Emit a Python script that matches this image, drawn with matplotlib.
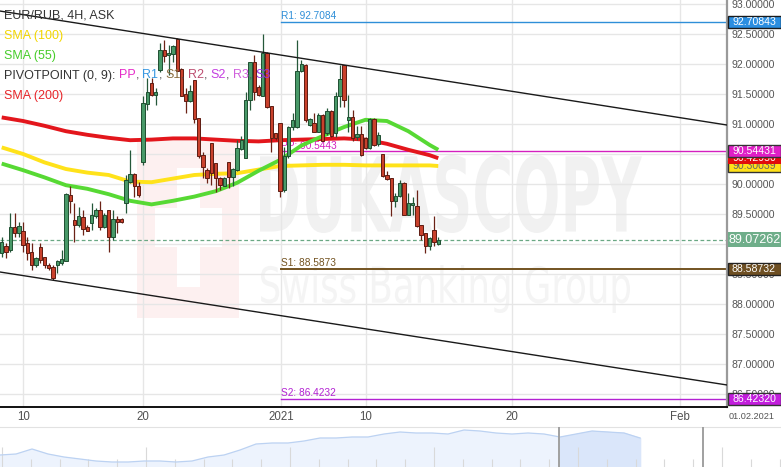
import numpy as np
import matplotlib
matplotlib.use("Agg")
import matplotlib.pyplot as plt
from matplotlib.patches import Rectangle, PathPatch
from matplotlib.textpath import TextPath
from matplotlib.font_manager import FontProperties
from matplotlib.transforms import Affine2D, IdentityTransform
from matplotlib.offsetbox import TextArea, HPacker, AnnotationBbox

plt.rcParams['font.family'] = ['Liberation Sans', 'DejaVu Sans']

W, H = 781, 467

# EUR/RUB 4H candles
opens = [88.85, 88.96, 88.90, 89.29, 89.19, 89.21, 89.01, 88.87, 88.65, 88.95,
         88.78, 88.65, 88.62, 88.65, 88.68, 88.72, 89.82, 89.40, 89.32, 89.45,
         89.28, 89.35, 89.46, 89.57, 89.29, 89.57, 89.12, 89.42, 89.41, 89.69,
         90.04, 90.17, 89.97, 90.36, 91.33, 91.68, 91.48, 91.90, 92.23, 92.15,
         92.17, 92.42, 91.91, 91.50, 91.39, 91.73, 91.10, 90.48, 90.23, 90.69,
         90.35, 90.10, 89.97, 90.36, 90.11, 90.23, 90.58, 90.43, 91.40, 92.03,
         91.62, 91.46, 92.19, 91.30, 90.85, 91.01, 89.90, 90.46, 90.95, 90.95,
         91.89, 91.98, 90.98, 91.02, 90.87, 91.15, 90.85, 91.21, 90.85, 91.46,
         91.98, 91.07, 91.11, 90.78, 90.83, 90.76, 90.60, 91.09, 90.67, 90.50,
         90.15, 90.10, 89.72, 89.80, 90.01, 89.48, 89.65, 89.63, 89.32, 89.18,
         88.96, 89.23, 89.00]
highs = [89.12, 89.02, 89.51, 89.51, 89.37, 89.37, 89.12, 89.01, 88.79, 89.01,
         88.79, 88.68, 88.65, 88.73, 88.90, 89.85, 89.96, 89.68, 89.62, 89.57,
         89.32, 89.69, 89.60, 89.72, 89.51, 89.57, 89.57, 89.46, 89.43, 90.15,
         90.57, 90.18, 90.04, 91.46, 91.76, 91.76, 91.60, 92.35, 92.40, 92.32,
         92.32, 92.43, 91.93, 91.60, 91.65, 91.74, 91.10, 90.54, 90.26, 90.69,
         90.35, 90.12, 90.12, 90.37, 90.26, 90.73, 90.80, 91.54, 92.04, 92.15,
         91.65, 92.50, 92.20, 91.30, 90.85, 91.02, 90.62, 90.97, 91.18, 92.40,
         92.06, 92.00, 91.10, 91.18, 91.18, 91.16, 91.26, 91.23, 91.54, 91.98,
         91.99, 91.48, 91.23, 90.96, 90.96, 90.78, 91.10, 91.10, 90.87, 90.50,
         90.21, 90.10, 89.85, 90.07, 90.04, 89.85, 89.79, 89.90, 89.32, 89.18,
         89.12, 89.47, 89.12]
lows = [88.79, 88.77, 88.87, 89.12, 89.12, 88.87, 88.73, 88.57, 88.62, 88.68,
        88.60, 88.57, 88.40, 88.51, 88.65, 88.71, 89.51, 89.04, 89.29, 89.15,
        89.21, 89.23, 89.43, 89.23, 89.26, 88.86, 89.07, 89.18, 89.35, 89.51,
        90.01, 89.79, 89.79, 90.32, 91.23, 91.46, 91.32, 91.87, 92.04, 91.82,
        92.04, 91.88, 91.46, 91.18, 91.37, 91.01, 90.43, 90.10, 90.01, 89.98,
        89.87, 89.90, 89.96, 89.93, 89.96, 90.21, 90.57, 90.43, 91.23, 91.40,
        91.46, 91.46, 91.26, 90.54, 90.73, 89.79, 89.87, 90.43, 90.90, 90.94,
        91.87, 91.04, 90.96, 90.87, 90.87, 90.71, 90.82, 90.78, 90.79, 91.29,
        91.29, 90.87, 90.71, 90.73, 90.47, 90.58, 90.58, 90.64, 90.63, 90.12,
        90.07, 89.46, 89.62, 89.79, 89.48, 89.48, 89.48, 89.29, 89.07, 88.85,
        88.90, 88.96, 88.98]
closes = [89.04, 88.87, 89.29, 89.19, 89.30, 88.98, 88.85, 88.65, 88.76, 88.73,
          88.65, 88.60, 88.43, 88.71, 88.75, 89.83, 89.72, 89.32, 89.46, 89.25,
          89.22, 89.48, 89.57, 89.29, 89.48, 89.12, 89.41, 89.37, 89.36, 90.07,
          90.17, 89.96, 89.81, 91.35, 91.54, 91.48, 91.54, 92.23, 92.13, 92.19,
          92.30, 91.89, 91.47, 91.39, 91.55, 91.08, 90.46, 90.28, 90.10, 90.18,
          90.10, 89.98, 90.10, 90.12, 90.25, 90.60, 90.73, 91.40, 92.03, 91.54,
          91.48, 92.19, 91.28, 90.76, 90.76, 89.89, 90.46, 90.95, 91.07, 91.89,
          92.00, 91.06, 91.08, 90.87, 91.15, 90.72, 91.21, 90.80, 91.46, 91.75,
          91.40, 91.11, 90.76, 90.83, 90.48, 90.60, 91.09, 90.65, 90.82, 90.13,
          90.08, 89.72, 89.80, 90.02, 89.48, 89.68, 89.69, 89.30, 89.15, 88.96,
          89.10, 89.04, 89.07]

# moving averages sampled every few candles
sma_idx = [0, 5, 10, 15, 20, 25, 30, 35, 40, 45, 50, 55, 60, 65, 70, 75, 80, 85, 90, 95, 100, 102]
sma200 = [91.11, 91.05, 90.97, 90.88, 90.82, 90.77, 90.73, 90.74, 90.76, 90.76, 90.74,
          90.72, 90.71, 90.73, 90.74, 90.75, 90.76, 90.74, 90.67, 90.57, 90.48, 90.43]
sma100 = [90.61, 90.50, 90.36, 90.25, 90.19, 90.15, 90.04, 90.03, 90.09, 90.15, 90.17,
          90.18, 90.24, 90.30, 90.31, 90.32, 90.32, 90.31, 90.31, 90.31, 90.31, 90.30]
sma55 = [90.34, 90.23, 90.11, 89.98, 89.92, 89.83, 89.72, 89.66, 89.72, 89.79, 89.88,
         90.02, 90.22, 90.40, 90.64, 90.80, 90.95, 91.07, 91.05, 90.88, 90.65, 90.57]

# monthly pivot levels (start at 2021 candle)
pivot_start = 65.3
pivot_names = ['R1', 'PP', 'S1', 'S2']
pivot_values = [92.7084, 90.5443, 88.5873, 86.4232]
pivot_colors = ['#2f8fd8', '#d41fbf', '#735321', '#b322d3']

# channel lines (endpoints at chart edges)
channel_x = [-0.4, 169.46]
channel_upper = [92.883, 90.983]
channel_lower = [88.533, 86.650]

last_price = 89.07262

date_tick_pos = [5.0, 33.0, 65.3, 85.1, 119.2, 158.5]
date_tick_labels = ['10', '20', '2021', '10', '20', 'Feb']

price_ticks = [86.5, 87.0, 87.5, 88.0, 88.5, 89.0, 89.5, 90.0, 90.5, 91.0, 91.5, 92.0, 92.5, 93.0]
hidden_ticks = [89.0, 90.5]   # fully covered by the price tags

# overview strip under the chart
nav_close = [12, 13, 18, 13, 10, 8, 6, 5, 5, 6, 6, 5, 6, 10, 12, 17, 23, 24, 24, 26,
             29, 29, 30, 30, 33, 35, 34, 34, 33, 37, 36, 34, 33, 34, 33, 30, 33, 36,
             35, 34, 29]

fig = plt.figure(figsize=(W / 100, H / 100), dpi=100)
ax = fig.add_axes([0, 60 / H, 727 / W, 407 / H])
ax.set_xlim(-0.4, 169.46)
ax.set_ylim(86.283, 93.067)
ax.set_axisbelow(True)

for s in ['left', 'top']:
    ax.spines[s].set_visible(False)
ax.spines['right'].set_color('#9a9a9a')
ax.spines['right'].set_linewidth(1.6)
ax.spines['bottom'].set_color('#111111')
ax.spines['bottom'].set_linewidth(1.4)

ax.yaxis.tick_right()
ax.set_yticks(price_ticks)
ax.set_yticklabels(['' if v in hidden_ticks else '%.5f' % v for v in price_ticks])
ax.tick_params(axis='y', length=0, pad=3, labelsize=7.6, labelcolor='#555555')
ax.set_xticks(date_tick_pos)
ax.set_xticklabels(date_tick_labels)
ax.tick_params(axis='x', length=0, pad=3, labelsize=8.3, labelcolor='#505050')
ax.grid(True, color='#e6e6e6', lw=1)

# watermark
def stretched(text, x0, y0, x1, y1, color, weight):
    tp = TextPath((0, 0), text, size=100, prop=FontProperties(family='DejaVu Sans', weight=weight))
    bb = tp.get_extents()
    tr = (Affine2D().translate(-bb.x0, -bb.y0)
          .scale((x1 - x0) / bb.width, (y1 - y0) / bb.height)
          .translate(x0, H - y1))
    ax.add_patch(PathPatch(tp, transform=tr, facecolor=color, edgecolor='none', zorder=0.2))

def px_rect(x0, y0, x1, y1, color):
    ax.add_patch(Rectangle((x0, H - y1), x1 - x0, y1 - y0, transform=IdentityTransform(),
                           facecolor=color, edgecolor='none', zorder=0.2))

px_rect(137, 140, 239, 318, '#fdf0f0')
px_rect(155, 208, 222, 247, 'white')
px_rect(177, 168, 200, 287, 'white')
stretched('DUKASCOPY', 260, 155, 642, 233, '#f1f1f1', 'bold')
stretched('Swiss Banking Group', 261, 265, 630, 313, '#f4f4f4', 'normal')

# pivots
for name, v, c in zip(pivot_names, pivot_values, pivot_colors):
    ax.plot([pivot_start, 170], [v, v], color=c, lw=1.4 if name == 'S1' else 1.0, zorder=1.5)
    ax.annotate('%s: %.4f' % (name, v), (pivot_start, v), xytext=(0, 2), textcoords='offset points',
                fontsize=7.3, color=c, va='baseline', ha='left', zorder=1.6)

ax.axhline(last_price, color='#6aa884', lw=0.9, ls=(0, (3, 2)), zorder=1.4)

# moving averages
ax.plot(sma_idx, sma200, color='#e3161c', lw=2.8, zorder=2, solid_capstyle='butt')
ax.plot(sma_idx, sma100, color='#ffe21a', lw=2.8, zorder=2, solid_capstyle='butt')
ax.plot(sma_idx, sma55, color='#57d934', lw=2.8, zorder=2, solid_capstyle='butt')

# candles
x = np.arange(len(opens))
o = np.array(opens); c = np.array(closes)
up = c >= o
ax.vlines(x[up], np.array(lows)[up], np.array(highs)[up], color='#25583a', lw=0.9, zorder=3)
ax.vlines(x[~up], np.array(lows)[~up], np.array(highs)[~up], color='#6b2216', lw=0.9, zorder=3)
body_h = np.maximum(np.abs(c - o), 0.012)
ax.bar(x[up], body_h[up], bottom=np.minimum(o, c)[up], width=0.78, color='#489968',
       edgecolor='#1f4f31', linewidth=0.7, zorder=3.1)
ax.bar(x[~up], body_h[~up], bottom=np.minimum(o, c)[~up], width=0.78, color='#c9412c',
       edgecolor='#5e1c12', linewidth=0.7, zorder=3.1)

# channel
ax.plot(channel_x, channel_upper, color='#1a1a1a', lw=1.0, zorder=4)
ax.plot(channel_x, channel_lower, color='#1a1a1a', lw=1.0, zorder=4)

# legend text block
fig.text(4 / W, 1 - 16 / H, 'EUR/RUB, 4H, ASK', fontsize=9, color='#333333', va='center')
fig.text(4 / W, 1 - 36 / H, 'SMA (100)', fontsize=9, color='#f2d600', va='center')
fig.text(4 / W, 1 - 55.5 / H, 'SMA (55)', fontsize=9, color='#47cc2a', va='center')
fig.text(4 / W, 1 - 95.5 / H, 'SMA (200)', fontsize=9, color='#e8262a', va='center')

piv_items = [('PP', '#e52bc8'), ('R1', '#3898e2'), ('S1', '#8a6d3e'), ('R2', '#bd4f72'),
             ('S2', '#c43ee0'), ('R3', '#d061dc'), ('S3', '#9a32e0')]
tp = dict(fontsize=9)
groups = [TextArea('PIVOTPOINT (0, 9):', textprops=dict(color='#333333', **tp))]
for k, (lab, col) in enumerate(piv_items):
    parts = [TextArea(lab, textprops=dict(color=col, **tp))]
    if k < len(piv_items) - 1:
        parts.append(TextArea(',', textprops=dict(color='#555555', **tp)))
    groups.append(HPacker(children=parts, pad=0, sep=0, align='baseline'))
row = HPacker(children=groups, pad=0, sep=2.5, align='baseline')
ab = AnnotationBbox(row, (4 / W, 1 - 75.5 / H), xycoords='figure fraction', box_alignment=(0, 0.5),
                    frameon=False, pad=0, zorder=6)
ax.add_artist(ab)

# price tags on the right axis
def tag(v, txt, face, edge, tcolor, h=12, fs=7.6, w=53, z=5):
    yd = ax.transData.transform((0, v))[1]
    fig.add_artist(Rectangle((727.5, yd - h / 2), w, h, transform=IdentityTransform(),
                             facecolor=face, edgecolor=edge, lw=1 if edge != 'none' else 0, zorder=z))
    fig.text((727.5 + w / 2) / W, yd / H, txt, fontsize=fs, color=tcolor, ha='center',
             va='center', zorder=z + 0.05)

tag(92.70843, '92.70843', '#2b8ee0', '#1a1a1a', 'white')
tag(90.30039, '90.30039', '#ffe11a', '#333333', '#666666', z=5)
tag(90.42950, '90.42950', '#e20b0b', 'none', 'white', z=5.2)
tag(90.54431, '90.54431', '#df1fc6', '#333333', 'white', z=5.4)
tag(last_price, '89.07262', '#6fae8a', 'none', 'white', h=15, fs=9, w=54)
tag(88.58732, '88.58732', '#6e4f22', '#222222', 'white')
tag(86.42320, '86.42320', '#c21ddc', '#333333', 'white')

fig.text(752 / W, 1 - 416.5 / H, '01.02.2021', fontsize=6.6, color='#555555', ha='center', va='center')

# overview strip
nav = fig.add_axes([0, 0, 1, 40 / H])
nav.set_xlim(0, W / 16)
nav.set_ylim(0, 40)
for s in ['left', 'right', 'bottom']:
    nav.spines[s].set_visible(False)
nav.spines['top'].set_color('#e2e2e2')
nav.set_xticks([]); nav.set_yticks([])
ni = np.arange(len(nav_close))
nav.fill_between(ni, 0, nav_close, color='#edf3fd', zorder=1)
sel = ni >= 35
nav.fill_between(ni[sel], 0, np.array(nav_close)[sel], color='#dae6fa', zorder=1.1)
nav.plot(ni, nav_close, color='#bcd2f2', lw=0.9, zorder=2)
for gx in np.arange(2, W, 28.8):
    tall = abs((gx - 2) / 144 - round((gx - 2) / 144)) < 0.01
    nav.vlines(gx / 16, 0, 20 if tall else 8, color='#d9d9d9', lw=0.8, zorder=1.5)
nav.vlines([559 / 16, 703 / 16], 0, 40, color='#a0a0a0', lw=1.4, zorder=3)

fig.savefig('out.png', dpi=100)
